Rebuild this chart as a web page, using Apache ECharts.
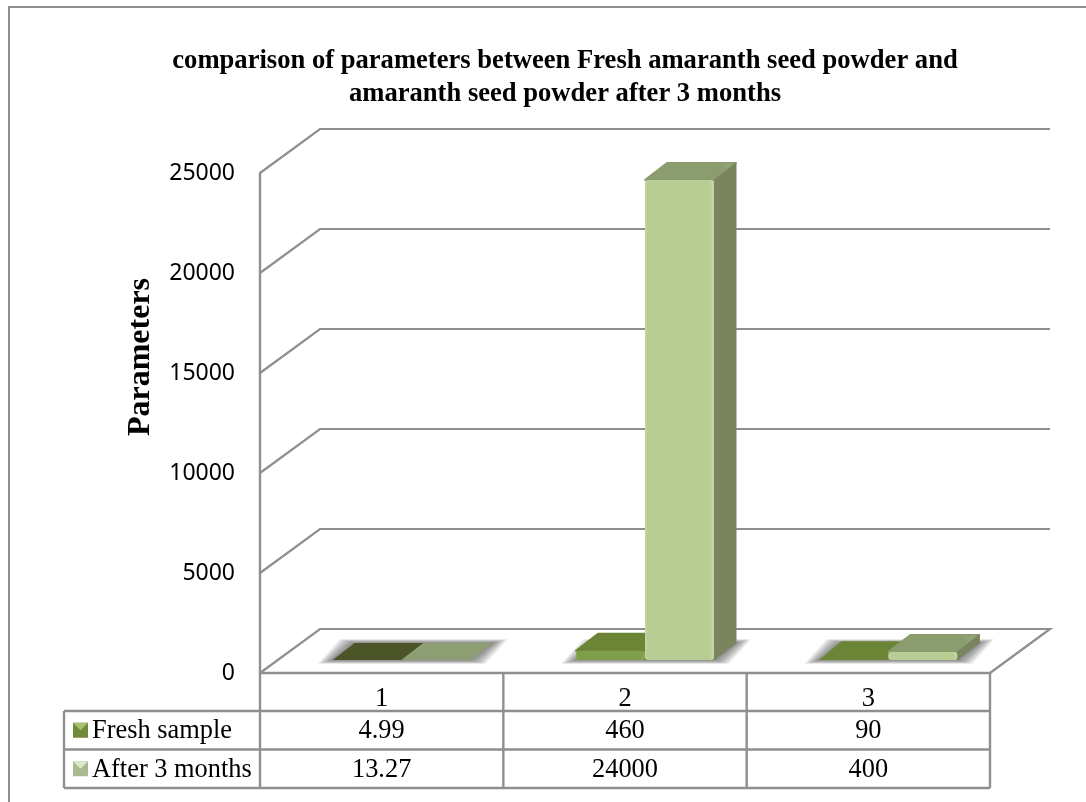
<!DOCTYPE html>
<html>
<head>
<meta charset="utf-8">
<style>html,body{margin:0;padding:0;background:#fff}#chart{width:1086px;height:802px}</style>
<script src="https://cdn.jsdelivr.net/npm/echarts@6/dist/echarts.min.js"></script>
</head>
<body>
<div id="chart"></div>
<script>
const categories = ['1', '2', '3'];
const freshSample = [4.99, 460, 90];
const afterThreeMonths = [13.27, 24000, 400];
const freshLabels = ['4.99', '460', '90'];
const afterLabels = ['13.27', '24000', '400'];
const wallTicks = [0, 5000, 10000, 15000, 20000, 25000];
const seriesNames = ['Fresh sample', 'After 3 months'];
const titleText = 'comparison of parameters between Fresh amaranth seed powder and\namaranth seed powder after 3 months';
const axisName = 'Parameters';

const SERIF = '"Liberation Serif", "Times New Roman", serif';
const LINE = '#8f8f8f';
const GRID = { left: 260, top: 173, width: 730, height: 500 };
const WALL_DX = 60, WALL_DY = -44;     // oblique offset of the back wall
const BAR_DX = 20, BAR_DY = -13;       // where bars stand on the floor
const DEPTH_DX = 22, DEPTH_DY = -17;   // depth of each bar
const BAR_W = 69;
const SHADOW_LAYERS = 7;

const skins = [
  { front: '#7f9e49', edge: '#8aa955', top: '#6b8436', topLit: '#728b3c', side: '#5c7230', flat: '#4b5527' },
  { front: '#b8cd94', edge: '#c6d9a6', top: '#8b9c6e', topLit: '#9bad7f', side: '#7a8560', flat: '#8d9e73' }
];

function barBase(api, seriesIdx) {
  const p = api.coord([api.value(0), 0]);
  return { x: p[0] + BAR_DX + (seriesIdx - 1) * BAR_W, y: p[1] + BAR_DY };
}

// Soft shadow on the floor under each pair of bars: stacked translucent
// outlines that fade with distance from the footprint
function renderShadow(params, api) {
  const b = barBase(api, 0);
  const w = BAR_W * 2;
  const children = [];
  for (let k = SHADOW_LAYERS; k >= 1; k--) {
    const grow = k * 2.1, rise = k * 0.55;
    children.push({
      type: 'polygon',
      shape: { points: [
        [b.x - grow, b.y + rise],
        [b.x + w + grow, b.y + rise],
        [b.x + w + DEPTH_DX + grow, b.y + DEPTH_DY - rise],
        [b.x + DEPTH_DX - grow, b.y + DEPTH_DY - rise]
      ] },
      style: { fill: 'rgba(60,60,60,0.11)' }
    });
  }
  return { type: 'group', children };
}

function renderBar(seriesIdx) {
  const skin = skins[seriesIdx];
  return function (params, api) {
    const b = barBase(api, seriesIdx);
    const h = b.y - (api.coord([api.value(0), api.value(1)])[1] + BAR_DY);
    const topY = b.y - h;
    const topPoints = [
      [b.x, topY], [b.x + BAR_W, topY],
      [b.x + BAR_W + DEPTH_DX, topY + DEPTH_DY], [b.x + DEPTH_DX, topY + DEPTH_DY]
    ];
    if (h < 1) {
      return { type: 'polygon', shape: { points: topPoints }, style: { fill: skin.flat } };
    }
    const topFill = new echarts.graphic.LinearGradient(0, 1, 1, 0, [
      { offset: 0, color: skin.top }, { offset: 0.8, color: skin.top }, { offset: 1, color: skin.topLit }
    ]);
    if (h < 3) {
      // Too short to show a front face: only the top reads
      return { type: 'polygon', shape: { points: [
        [b.x, b.y], [b.x + BAR_W, b.y], topPoints[2], topPoints[3]
      ] }, style: { fill: skin.top } };
    }
    return {
      type: 'group',
      children: [
        { type: 'polygon', shape: { points: topPoints },
          style: { fill: topFill, stroke: skin.top, lineWidth: 2, lineJoin: 'round' } },
        { type: 'polygon',
          shape: { points: [
            [b.x + BAR_W, topY], [b.x + BAR_W + DEPTH_DX, topY + DEPTH_DY],
            [b.x + BAR_W + DEPTH_DX, b.y + DEPTH_DY], [b.x + BAR_W, b.y]
          ] },
          style: { fill: skin.side, stroke: skin.side, lineWidth: 1, lineJoin: 'round' } },
        { type: 'rect',
          shape: { x: b.x, y: topY, width: BAR_W, height: h, r: 3 },
          style: { fill: new echarts.graphic.LinearGradient(0, 0, 1, 0, [
            { offset: 0, color: skin.edge }, { offset: 0.03, color: skin.front },
            { offset: 0.93, color: skin.front }, { offset: 1, color: skin.edge }
          ]) } }
      ]
    };
  };
}

// Left wall, back wall gridlines and the floor outline
function renderWall(params, api) {
  const band = api.size([1, 0])[0];
  const p = api.coord([0, api.value(1)]);
  const x0 = p[0] - band / 2, y0 = p[1];
  const xBack = x0 + WALL_DX, yBack = y0 + WALL_DY;
  const xEnd = xBack + band * categories.length;
  const pts = [[x0, y0], [xBack, yBack], [xEnd, yBack]];
  if (api.value(1) === 0) pts.push([xEnd - WALL_DX, y0]);
  return {
    type: 'polyline',
    shape: { points: pts },
    style: { fill: 'none', stroke: LINE, lineWidth: 2.2 }
  };
}

const wallData = wallTicks.map(v => [0, v]);
const pairs = arr => arr.map((v, i) => [i, v]);
const customEncode = { x: 0, y: 1 };

function lineEl(x1, y1, x2, y2) {
  return { type: 'line', shape: { x1, y1, x2, y2 }, style: { stroke: LINE, lineWidth: 2.4 }, silent: true };
}
function textEl(text, x, y, align) {
  return { type: 'text', x, y: y + 1, silent: true, style: {
    text, font: '26.4px ' + SERIF, fill: '#000', textAlign: align, textVerticalAlign: 'middle'
  } };
}

// Data table beneath the plot, with its legend column
function tableElements() {
  const left = GRID.left, right = GRID.left + GRID.width, band = GRID.width / categories.length;
  const rowTop = 711, rowH = 38.5, tableLeft = 64;
  const els = [
    { type: 'polyline', shape: { points: [[9, 802], [9, 7], [1086, 7]] }, style: { fill: 'none', stroke: LINE, lineWidth: 2 }, silent: true },
    lineEl(tableLeft, rowTop, right, rowTop),
    lineEl(tableLeft, rowTop + rowH, right, rowTop + rowH),
    lineEl(tableLeft, rowTop + 2 * rowH, right, rowTop + 2 * rowH),
    lineEl(tableLeft, rowTop, tableLeft, rowTop + 2 * rowH),
    { type: 'text', x: 141, y: 357, rotation: Math.PI / 2, silent: true, style: {
      text: axisName, font: 'bold 32px ' + SERIF, fill: '#000', textAlign: 'center', textVerticalAlign: 'middle'
    } }
  ];
  for (let i = 0; i <= categories.length; i++) {
    els.push(lineEl(left + i * band, GRID.top + GRID.height, left + i * band, rowTop + 2 * rowH));
  }
  [freshLabels, afterLabels].forEach((row, r) => {
    const cy = rowTop + rowH * (r + 0.5);
    row.forEach((t, c) => els.push(textEl(t, left + band * (c + 0.5), cy, 'center')));
    els.push({
      type: 'rect', silent: true,
      shape: { x: 73, y: cy - 7.5, width: 15, height: 15 },
      style: { fill: r === 0 ? '#6f8a3a' : '#a8ba8f' }
    });
    els.push({
      type: 'polygon', silent: true,
      shape: { points: [[73, cy - 7.5], [88, cy - 7.5], [80.5, cy]] },
      style: { fill: r === 0 ? '#a9c26e' : '#dde9c9' }
    });
    els.push(textEl(seriesNames[r], 92, cy, 'left'));
  });
  return els;
}

const chart = echarts.init(document.getElementById('chart'), null, { renderer: 'canvas' });
chart.setOption({
  animation: false,
  backgroundColor: '#fff',
  title: {
    text: titleText,
    left: 560, top: 40, textAlign: 'center',
    textStyle: { fontFamily: SERIF, fontWeight: 'bold', fontSize: 26.6, lineHeight: 33, color: '#000' }
  },
  grid: GRID,
  xAxis: {
    type: 'category',
    data: categories,
    axisLine: { show: true, lineStyle: { color: LINE, width: 2.4 } },
    axisTick: { show: false },
    axisLabel: { fontFamily: SERIF, fontSize: 26.4, color: '#000', margin: 13 }
  },
  yAxis: {
    type: 'value',
    min: 0, max: 25000, interval: 5000,
    axisLine: { show: true, lineStyle: { color: LINE, width: 2.4 } },
    axisTick: { show: false },
    splitLine: { show: false },
    axisLabel: { fontFamily: '"Noto Sans", sans-serif', fontSize: 23, color: '#000', margin: 25, padding: [4, 0, 0, 0], formatter: v => String(v) }
  },
  series: [
    { type: 'custom', name: 'wall', z: 1, data: wallData, encode: customEncode, renderItem: renderWall, silent: true },
    { type: 'custom', name: 'floor-shadow', z: 2, data: pairs(freshSample), encode: customEncode, renderItem: renderShadow, silent: true },
    { type: 'custom', name: seriesNames[0], z: 3, data: pairs(freshSample), encode: customEncode, renderItem: renderBar(0) },
    { type: 'custom', name: seriesNames[1], z: 4, data: pairs(afterThreeMonths), encode: customEncode, renderItem: renderBar(1) }
  ],
  graphic: tableElements()
});
</script>
</body>
</html>
